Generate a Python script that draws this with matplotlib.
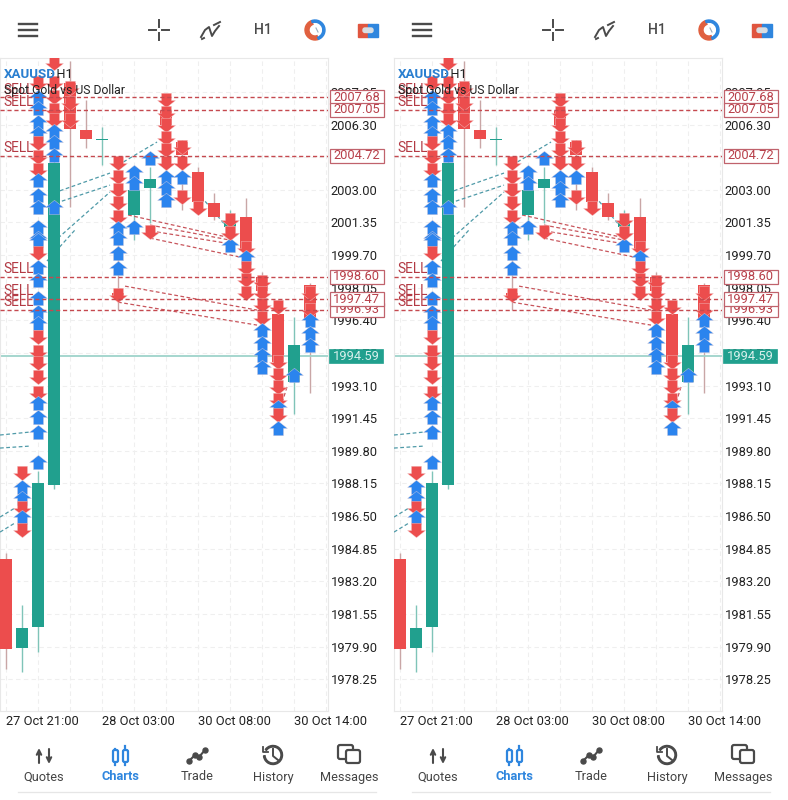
import numpy as np
import matplotlib
matplotlib.use("Agg")
import matplotlib.pyplot as plt
from matplotlib.path import Path
from matplotlib.patches import Rectangle, Wedge, FancyBboxPatch

plt.rcParams['font.family'] = ['Roboto', 'DejaVu Sans']

# candles, index 0 is the leftmost
opens = [1984.32, 1979.82, 1980.88, 1988.07, 2008.40, 2006.02, 2005.54, 1997.80, 2001.72, 2003.09,
         2007.00, 2005.41, 2003.90, 2002.33, 2001.10, 2001.62, 1998.59, 1996.72, 1993.28, 1998.18]
closes = [1979.77, 1980.83, 1988.17, 2004.35, 2006.07, 2005.57, 2005.57, 1997.60, 2002.99, 2003.54,
          2006.30, 2004.76, 2002.38, 2001.62, 2001.30, 1999.95, 1997.90, 1994.29, 1995.15, 1996.40]
highs = [1984.63, 1982.00, 1988.80, 2007.70, 2009.51, 2007.54, 2006.17, 2004.50, 2003.90, 2004.15,
         2007.54, 2005.50, 2004.15, 2002.84, 2001.98, 2002.58, 1998.84, 1997.42, 1996.56, 1998.30]
lows = [1978.76, 1978.61, 1979.62, 1987.87, 2002.13, 2005.11, 2004.25, 1996.92, 2000.46, 2001.32,
        2002.23, 2001.98, 2001.98, 2001.47, 2000.00, 1997.42, 1995.65, 1991.35, 1991.66, 1992.72]

# trade arrows: candle index, price, 1 = buy, 0 = sell
arrow_idx = [1, 1, 1, 1, 1, 1,
             2, 2, 2, 2, 2, 2, 2, 2, 2, 2, 2, 2, 2, 2, 2, 2, 2, 2, 2, 2, 2, 2, 2, 2, 2, 2, 2, 2, 2,
             3, 3, 3, 3, 3, 3, 3, 3, 3,
             4, 4, 4,
             7, 7, 7, 7, 7, 7, 7, 7, 7, 7,
             8, 8, 8, 9, 9,
             10, 10, 10, 10, 10, 10, 10, 10, 10,
             11, 11, 11, 11, 12,
             14, 14, 14, 14,
             15, 15, 15, 15, 15,
             16, 16, 16, 16, 16, 16, 16, 16,
             17, 17, 17, 17, 17, 17, 17, 17, 18,
             19, 19, 19, 19, 19]
arrow_price = [1988.68, 1987.97, 1987.41, 1986.91, 1986.45, 1985.79,
               2008.40, 2007.69, 2007.14, 2006.43, 2005.87, 2005.37, 2004.66, 2004.00, 2003.50, 2002.74,
               2002.13, 2001.12, 2000.56, 2000.46, 1999.80, 1999.10, 1998.44, 1997.53, 1996.82, 1996.26,
               1995.55, 1994.80, 1994.24, 1993.53, 1992.72, 1992.22, 1991.51, 1990.75, 1989.23,
               2009.41, 2008.40, 2007.69, 2007.04, 2006.53, 2005.97, 2005.42, 2004.76, 2002.13,
               2008.15, 2007.39, 2006.53,
               2004.36, 2003.65, 2002.99, 2002.33, 2001.62, 2001.07, 2000.56, 1999.80, 1999.04, 1997.68,
               2003.90, 2003.34, 2001.12, 2004.61, 2000.87,
               2007.54, 2006.88, 2006.28, 2005.62, 2005.01, 2004.36, 2003.65, 2003.09, 2002.48,
               2005.16, 2004.36, 2003.65, 2002.64, 2002.08,
               2001.47, 2000.81, 2000.21, 2000.81,
               2000.06, 1999.60, 1999.04, 1998.44, 1997.78,
               1998.34, 1997.78, 1997.17, 1996.52, 1995.91, 1995.25, 1994.64, 1994.04,
               1997.07, 1994.29, 1993.63, 1993.03, 1992.37, 1992.01, 1991.61, 1990.95, 1993.63,
               1997.78, 1996.92, 1996.41, 1995.76, 1995.15]
arrow_buy = [0, 1, 1, 0, 1, 0,
             0, 1, 1, 1, 1, 0, 0, 0, 1, 1, 1, 1, 1, 1, 0, 1, 1, 1, 1, 1, 0, 0, 0, 0, 0, 1, 1, 1, 1,
             0, 0, 0, 0, 0, 1, 1, 1, 1,
             0, 0, 0,
             0, 0, 0, 0, 0, 1, 1, 1, 1, 0,
             1, 1, 1, 1, 0,
             0, 0, 0, 0, 0, 0, 1, 1, 1,
             0, 0, 1, 0, 0,
             0, 0, 1, 0,
             0, 1, 0, 0, 0,
             0, 0, 0, 0, 1, 1, 1, 1,
             0, 0, 0, 0, 0, 1, 0, 1, 1,
             0, 0, 1, 1, 1]

# dashed links between trades: x0, x1 in candle positions, p0, p1 in price
blue_x0 = [2.63, 2.75, 3.25, 2.56, 7.0, 11.69, -0.375, -0.375, -0.375, -0.375]
blue_x1 = [6.5, 6.5, 6.5, 4.31, 9.44, 13.81, 1.5, 1.5, 0.56, 0.56]
blue_p0 = [2002.74, 2002.23, 2000.56, 1999.40, 2004.25, 2003.14, 1990.60, 1989.94, 1986.45, 1985.69]
blue_p1 = [2003.85, 2003.24, 2002.89, 2000.97, 2005.42, 2001.12, 1990.75, 1990.04, 1986.91, 1986.15]
red_x0 = [7.63, 9.0, 9.44, 9.0, 7.44, 7.0, 17.56]
red_x1 = [13.81, 14.0, 13.81, 14.63, 15.69, 15.69, 17.31]
red_p0 = [2001.73, 2001.22, 2000.87, 2000.56, 1998.13, 1997.32, 1993.03]
red_p1 = [2000.61, 2000.46, 2000.30, 1999.60, 1996.92, 1996.16, 1992.37]

sell_levels = [2007.68, 2007.05, 2004.72, 1998.60, 1997.47, 1996.93]
sell_stack = [0, 1, 2, 3, 5, 4]
last_price = 1994.59
price_ticks = [2007.95, 2006.30, 2004.65, 2003.00, 2001.35, 1999.70, 1998.05, 1996.40, 1994.75,
               1993.10, 1991.45, 1989.80, 1988.15, 1986.50, 1984.85, 1983.20, 1981.55, 1979.90, 1978.25]
time_ticks = [0, 6, 12, 18]
time_labels = ['27 Oct 21:00', '28 Oct 03:00', '30 Oct 08:00', '30 Oct 14:00']
nav_labels = ['Quotes', 'Charts', 'Trade', 'History', 'Messages']

RED = '#ec4d4d'
GREEN = '#21a08e'
BLUE = '#2b84ee'
DARKRED = '#b8404a'
ICON = '#4a4a4a'
NAVBLUE = '#2f86de'

up_arrow = Path([(-1, 0.0), (0, 0.8), (1, 0.0), (0.56, 0.0), (0.56, -0.8),
                 (-0.56, -0.8), (-0.56, 0.0), (-1, 0.0)], closed=True)
down_arrow = Path([(-1, 0.0), (0, -0.8), (1, 0.0), (0.56, 0.0), (0.56, 0.8),
                   (-0.56, 0.8), (-0.56, 0.0), (-1, 0.0)], closed=True)


def draw_chart(ax):
    ax.set_xlim(-0.375, 20.125)
    ax.set_ylim(1976.64, 2009.67)
    ax.set_axisbelow(True)
    for side in ['left', 'top', 'right', 'bottom']:
        ax.spines[side].set_color('#e8e8e8')
        ax.spines[side].set_linewidth(0.8)
    ax.yaxis.tick_right()
    ax.set_yticks(price_ticks)
    ax.set_yticklabels(['%.2f' % p for p in price_ticks])
    ax.set_xticks(time_ticks)
    ax.set_xticklabels(time_labels, ha='left')
    ax.set_xticks(np.arange(0, 21, 2), minor=True)
    ax.tick_params(axis='both', which='both', length=0)
    ax.tick_params(axis='y', labelsize=9.3, labelcolor='#222222', pad=2)
    ax.tick_params(axis='x', labelsize=9.3, labelcolor='#222222', pad=3)
    ax.grid(True, which='both', color='#efefef', lw=0.8, ls=(0, (4, 3)))

    for i in range(len(opens)):
        col = GREEN if closes[i] >= opens[i] else RED
        wick = '#7fc4b8' if col == GREEN else '#c9a6a6'
        ax.vlines(i, lows[i], highs[i], color=wick, lw=1, zorder=2)
        ax.bar(i, abs(closes[i] - opens[i]), bottom=min(opens[i], closes[i]), width=0.7,
               color=col, zorder=3)

    # last price and sell levels
    ax.axhline(last_price, color='#9ed3ca', lw=1.3, zorder=2.5)
    for x0, x1, p0, p1 in zip(blue_x0, blue_x1, blue_p0, blue_p1):
        ax.plot([x0, x1], [p0, p1], color='#4f9aa8', lw=0.9, ls=(0, (3, 2)), zorder=2.6)
    for x0, x1, p0, p1 in zip(red_x0, red_x1, red_p0, red_p1):
        ax.plot([x0, x1], [p0, p1], color='#c8555c', lw=0.9, ls=(0, (3, 2)), zorder=2.6)

    for p in sell_levels:
        ax.text(0.012, p + 0.04, 'SELL', transform=ax.get_yaxis_transform(), color='#b33a44',
                fontsize=9.8, va='bottom', ha='left', zorder=3.5)

    for i, p, b in zip(arrow_idx, arrow_price, arrow_buy):
        ax.plot([i], [p], ls='none', marker=up_arrow if b else down_arrow, ms=13,
                mfc=BLUE if b else RED, mec='#f3d8d8', mew=0.25, zorder=4)

    for p, k in zip(sell_levels, sell_stack):
        z = 5.5 + k * 0.1
        ax.axhline(p, color='#c5494f', lw=1, ls=(0, (3, 2)), zorder=4.5)
        ax.add_patch(Rectangle((20.25, p - 0.36), 3.375, 0.72, fc='white', ec='#c0626c', lw=0.9,
                               clip_on=False, zorder=z))
        ax.text(20.46, p, '%.2f' % p, color=DARKRED, fontsize=9.3, va='center', ha='left', zorder=z)
    ax.add_patch(Rectangle((20.19, last_price - 0.355), 3.375, 0.71, fc=GREEN, ec=GREEN, lw=0.5,
                           clip_on=False, zorder=6))
    ax.text(20.42, last_price, '%.2f' % last_price, color='#d8f0ec', fontsize=9.3, va='center',
            ha='left', zorder=6.1)

    ax.text(0.012, 0.974, 'XAUUSD', transform=ax.transAxes, color='#2a7fd0', fontsize=9.6,
            fontweight='bold', va='center', zorder=7)
    ax.text(0.152, 0.974, '\u00b7 H1', transform=ax.transAxes, color='#222222', fontsize=9.2,
            va='center', zorder=7)
    ax.text(0.012, 0.9495, 'Spot Gold vs US Dollar', transform=ax.transAxes, color='#222222',
            fontsize=8.8, va='center', zorder=7)


def draw_chrome(ov, dx):
    # top toolbar
    for y in [24, 30, 36]:
        ov.plot([19 + dx, 37 + dx], [y, y], color=ICON, lw=1.7)
    for a, b in [((149, 30), (156, 30)), ((162, 30), (169, 30)), ((159, 20), (159, 27)), ((159, 33), (159, 40))]:
        ov.plot([a[0] + dx, b[0] + dx], [a[1], b[1]], color=ICON, lw=1.4)
    ov.plot(np.array([201, 205, 209, 212, 215, 219]) + dx, [37, 30, 27, 36, 31, 26], color=ICON, lw=1.4)
    ov.plot(np.array([214, 220]) + dx, [25, 22], color=ICON, lw=1.4)
    ov.plot(np.array([202, 204]) + dx, [39, 38], color=ICON, lw=1.4)
    ov.text(262.5 + dx, 30, 'H1', fontsize=10, color=ICON, fontweight='medium', ha='center', va='center')
    ov.add_patch(Wedge((315 + dx, 30), 10, 70, 250, width=4, color='#e0603f'))
    ov.add_patch(Wedge((315 + dx, 30), 10, 250, 70, width=2.2, color='#2f86de'))
    ov.plot(np.array([316, 318]) + dx, [28, 32], color='#9ab', lw=0.8)
    ov.add_patch(Rectangle((358 + dx, 23.5), 10, 13.5, color='#e0553f'))
    ov.add_patch(Rectangle((368 + dx, 23.5), 10, 13.5, color='#2f86de'))
    ov.add_patch(FancyBboxPatch((363 + dx, 28), 10, 4.5, boxstyle='round,pad=0,rounding_size=2', color='#d8dde2'))

    # bottom navigation
    xs = [44, 120, 197, 273, 349]
    for x, lab in zip(xs, nav_labels):
        active = lab == 'Charts'
        ov.text(x + dx, 777, lab, fontsize=9.2, ha='center', va='center',
                color=NAVBLUE if active else '#444444', fontweight='bold' if active else 'normal')
    # quotes arrows
    ov.annotate('', xy=(39 + dx, 748), xytext=(39 + dx, 763),
                arrowprops=dict(arrowstyle='->', color=ICON, lw=1.5, mutation_scale=8, shrinkA=0, shrinkB=0))
    ov.annotate('', xy=(49 + dx, 764), xytext=(49 + dx, 749),
                arrowprops=dict(arrowstyle='->', color=ICON, lw=1.5, mutation_scale=8, shrinkA=0, shrinkB=0))
    # charts candles
    for x in [115, 125]:
        ov.plot([x + 0.5 + dx, x + 0.5 + dx], [746 if x == 125 else 749, 765], color=NAVBLUE, lw=1.6, zorder=1)
        ov.add_patch(FancyBboxPatch((x - 2 + dx, 750), 5, 12, boxstyle='round,pad=0,rounding_size=1.5',
                                    fc='white', ec=NAVBLUE, lw=1.6, zorder=2))
    # trade line
    tx = np.array([189, 195, 199, 205]) + dx
    ty = [761, 755, 757, 750]
    ov.plot(tx, ty, color=ICON, lw=1.5)
    ov.plot(tx, ty, ls='none', marker='o', ms=3.6, color=ICON)
    # history clock
    ov.add_patch(Wedge((273 + dx, 755), 9.5, 215, 175, width=1.5, color=ICON))
    ov.plot(np.array([273, 273, 278]) + dx, [749, 756, 760], color=ICON, lw=1.4)
    ov.plot(np.array([263, 263, 268]) + dx, [747, 752, 752], color=ICON, lw=1.3)
    # messages
    ov.add_patch(FancyBboxPatch((338 + dx, 745), 15, 14, boxstyle='round,pad=0,rounding_size=2', fc='white', ec=ICON, lw=1.6))
    ov.add_patch(FancyBboxPatch((346 + dx, 750), 14, 13, boxstyle='round,pad=0,rounding_size=2', fc='white', ec=ICON, lw=1.6))
    ov.plot([18 + dx, 376 + dx], [791.5, 791.5], color='#e6e6e6', lw=0.9)


def main():
    fig = plt.figure(figsize=(7.88, 8.0), dpi=100)
    for dx in [0, 394]:
        ax = fig.add_axes([dx / 788, (800 - 711) / 800, 328 / 788, 653 / 800])
        draw_chart(ax)

    ov = fig.add_axes([0, 0, 1, 1], zorder=10)
    ov.set_xlim(0, 788)
    ov.set_ylim(800, 0)
    ov.axis('off')
    ov.patch.set_alpha(0)
    for dx in [0, 394]:
        draw_chrome(ov, dx)

    fig.savefig('out.png', dpi=100)


if __name__ == '__main__':
    main()
